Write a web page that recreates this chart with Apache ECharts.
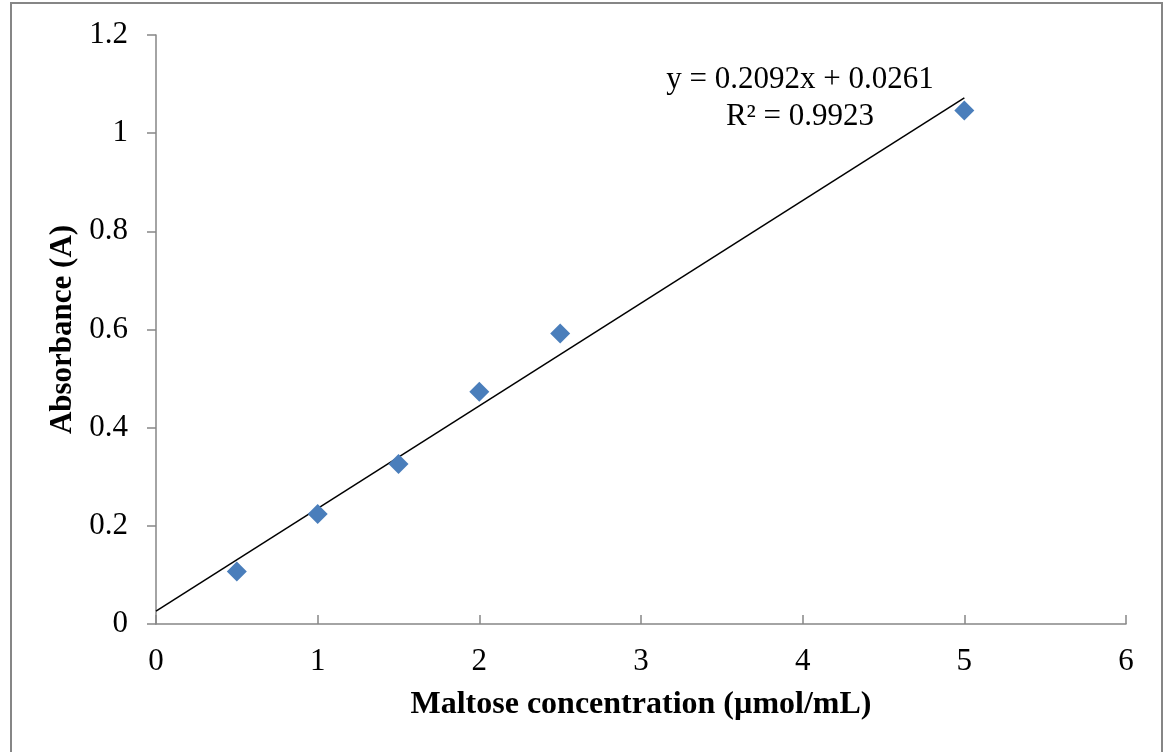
<!DOCTYPE html>
<html>
<head>
<meta charset="utf-8">
<script src="https://cdn.jsdelivr.net/npm/echarts@6/dist/echarts.min.js"></script>
<style>html,body{margin:0;padding:0;background:#fff;}#c{width:1168px;height:752px;}</style>
</head>
<body>
<div id="c"></div>
<script>
const concentration = [0.5, 1, 1.5, 2, 2.5, 5];
const absorbance = [0.107, 0.224, 0.326, 0.473, 0.592, 1.046];
const trendX = [0, 5];
const trendY = [0.0261, 1.0721];
const equationText = 'y = 0.2092x + 0.0261';
const r2Text = 'R² = 0.9923';
const xTitle = 'Maltose concentration (µmol/mL)';
const yTitle = 'Absorbance (A)';

const FONT = '"Liberation Serif", "Times New Roman", serif';
const chart = echarts.init(document.getElementById('c'), null, {renderer: 'canvas'});
const axisLine = {lineStyle: {color: '#868686', width: 1.5}};
chart.setOption({
  animation: false,
  backgroundColor: '#fff',
  grid: {left: 156, right: 42, top: 35, bottom: 128},
  xAxis: {
    type: 'value', min: 0, max: 6, interval: 1,
    axisLine: Object.assign({onZero: false}, axisLine),
    axisTick: {show: true, inside: true, length: 9, lineStyle: {color: '#868686', width: 1.5}},
    splitLine: {show: false},
    axisLabel: {color: '#000', fontFamily: FONT, fontSize: 31, margin: 22},
    name: xTitle, nameLocation: 'middle', nameGap: 65,
    nameTextStyle: {color: '#000', fontFamily: FONT, fontSize: 32, fontWeight: 'bold'}
  },
  yAxis: {
    type: 'value', min: 0, max: 1.2, interval: 0.2,
    axisLine: Object.assign({show: true, onZero: false}, axisLine),
    axisTick: {show: true, inside: false, length: 9, lineStyle: {color: '#868686', width: 1.5}},
    splitLine: {show: false},
    axisLabel: {color: '#000', fontFamily: FONT, fontSize: 31, margin: 28,
      formatter: v => String(Math.round(v * 10) / 10)},
    name: yTitle, nameLocation: 'middle', nameGap: 74, nameRotate: 90,
    nameTextStyle: {color: '#000', fontFamily: FONT, fontSize: 31, fontWeight: 'bold'}
  },
  series: [
    {
      type: 'line',
      data: trendX.map((x, i) => [x, trendY[i]]),
      symbol: 'none',
      lineStyle: {color: '#000', width: 1.5},
      z: 2
    },
    {
      type: 'scatter',
      data: concentration.map((x, i) => [x, absorbance[i]]),
      symbol: 'diamond',
      symbolSize: [20, 20],
      itemStyle: {color: '#4A7EBB', opacity: 1},
      z: 3
    }
  ],
  graphic: [
    {type: 'rect', shape: {x: 11, y: 3, width: 1151, height: 760},
     style: {fill: 'none', stroke: '#868686', lineWidth: 2}, silent: true},
    {type: 'text', x: 800, y: 80, style: {text: equationText, font: '31px ' + FONT, fill: '#000', textAlign: 'center', textVerticalAlign: 'middle'}},
    {type: 'text', x: 800, y: 117, style: {text: r2Text, font: '31px ' + FONT, fill: '#000', textAlign: 'center', textVerticalAlign: 'middle'}}
  ]
});
</script>
</body>
</html>
